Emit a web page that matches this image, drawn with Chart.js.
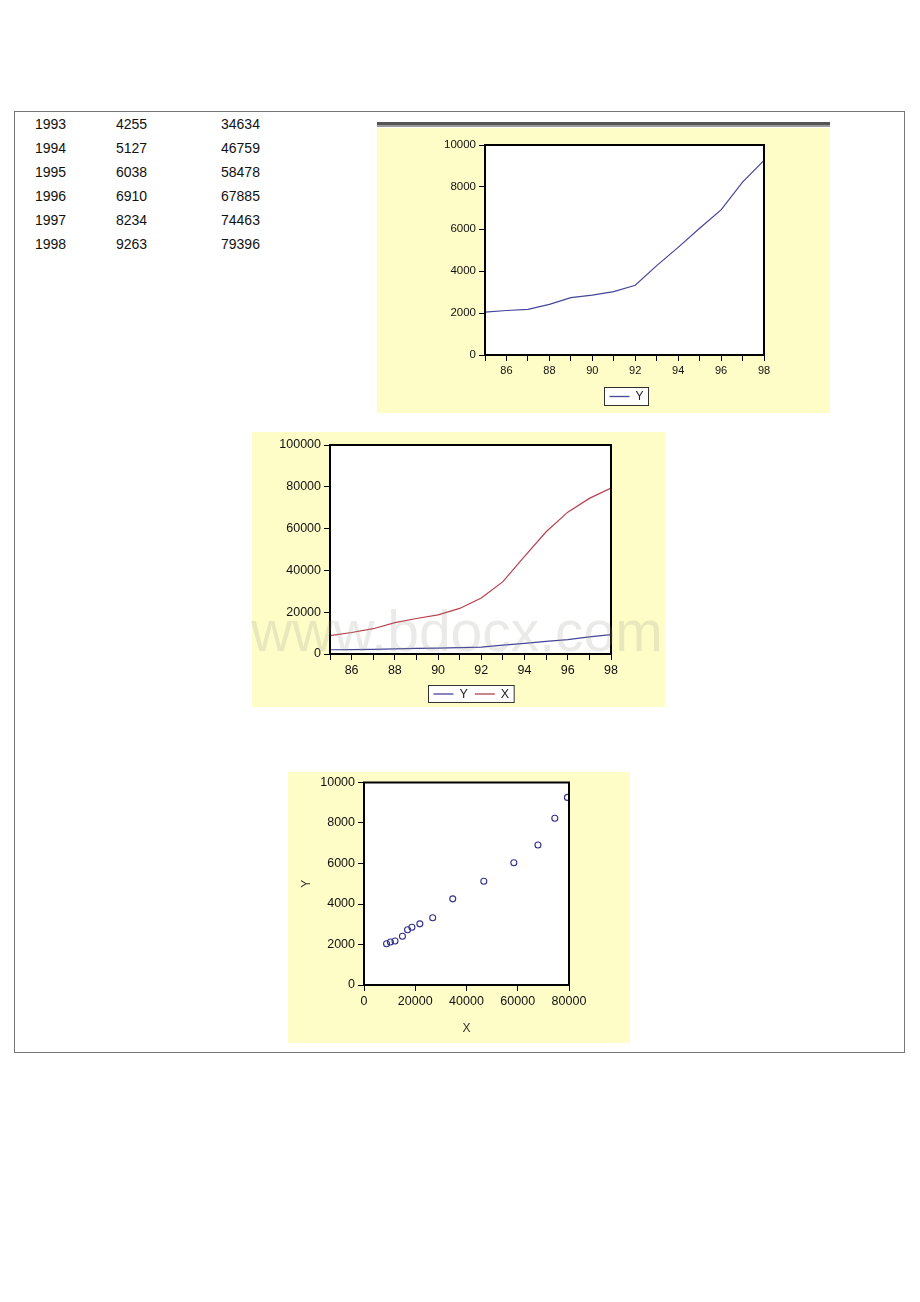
<!DOCTYPE html>
<html>
<head>
<meta charset="utf-8">
<script src="https://cdn.jsdelivr.net/npm/chart.js"></script>
<style>
  html, body { margin: 0; padding: 0; background: #fff; }
  #page { position: relative; width: 920px; height: 1302px; overflow: hidden; font-family: 'Liberation Sans', Arial, sans-serif; }
  #frame { position: absolute; left: 14px; top: 111px; width: 889px; height: 940px; border: 1px solid #777; }
  .cell { position: absolute; font-size: 14px; color: #111; line-height: 16px; }
  canvas { position: absolute; background: #FEFDC8; }
  #band { position: absolute; left: 377px; top: 122px; width: 453px; height: 3px; background: #555; border-bottom: 2px solid #9a9a9a; }
  #wm { position: absolute; left: 251px; top: 603px; font-size: 57px; line-height: 57px; color: rgba(150,150,140,0.2); white-space: nowrap; pointer-events: none; }
</style>
</head>
<body>
<div id="page">
  <div id="frame"></div>
  <div id="table"></div>
  <div id="band"></div>
  <canvas id="c1" width="453" height="285" style="left:377px;top:128px;width:453px;height:285px"></canvas>
  <canvas id="c2" width="413" height="275" style="left:252px;top:432px;width:413px;height:275px"></canvas>
  <canvas id="c3" width="342" height="271" style="left:288px;top:772px;width:342px;height:271px"></canvas>
  <div id="wm">www.bdocx.com</div>
</div>
<script>
// ---- data ----
const years   = [1985, 1986, 1987, 1988, 1989, 1990, 1991, 1992, 1993, 1994, 1995, 1996, 1997, 1998];
const seriesY = [2040, 2120, 2170, 2410, 2730, 2850, 3020, 3320, 4255, 5127, 6038, 6910, 8234, 9263];
const seriesX = [8800, 10300, 12100, 15000, 17000, 18700, 21800, 26800, 34634, 46759, 58478, 67885, 74463, 79396];
const tableYears = [1993, 1994, 1995, 1996, 1997, 1998];
const tableY     = [4255, 5127, 6038, 6910, 8234, 9263];
const tableX     = [34634, 46759, 58478, 67885, 74463, 79396];
const yTicks1 = [0, 2000, 4000, 6000, 8000, 10000];
const yTicks2 = [0, 20000, 40000, 60000, 80000, 100000];
const xTicks3 = [0, 20000, 40000, 60000, 80000];

const FONT = "'Liberation Sans', Arial, sans-serif";
const COL_Y = '#45459a';
const COL_X = '#b8404c';

// ---- table ----
(function () {
  const t = document.getElementById('table');
  const rowTop = [116, 140, 164, 188, 212, 236];
  const cols = [35, 116, 221];
  tableYears.forEach((yr, i) => {
    [yr, tableY[i], tableX[i]].forEach((v, j) => {
      const d = document.createElement('div');
      d.className = 'cell';
      d.style.left = cols[j] + 'px';
      d.style.top = rowTop[i] + 'px';
      d.textContent = String(v);
      t.appendChild(d);
    });
  });
})();

// ---- plugins ----
const plotFrame = {
  id: 'plotFrame',
  beforeDraw(chart) {
    const { ctx, chartArea: a } = chart;
    ctx.save();
    ctx.fillStyle = '#ffffff';
    ctx.fillRect(a.left, a.top, a.right - a.left, a.bottom - a.top);
    ctx.restore();
  },
  afterDraw(chart) {
    const { ctx, chartArea: a } = chart;
    ctx.save();
    ctx.strokeStyle = '#000';
    ctx.lineWidth = 2;
    ctx.strokeRect(a.left, a.top, a.right - a.left, a.bottom - a.top);
    ctx.restore();
  }
};

const boxLegend = {
  id: 'boxLegend',
  afterDraw(chart, args, o) {
    if (!o || !o.show) return;
    const { ctx, chartArea: a } = chart;
    ctx.save();
    ctx.font = o.size + 'px ' + FONT;
    const items = chart.data.datasets.map(d => ({ label: d.label, color: d.borderColor, w: ctx.measureText(d.label).width }));
    const lineLen = 20, gap = 6, itemGap = 7, padL = 5, padR = 5;
    let total = padL + padR;
    items.forEach((it, i) => { total += lineLen + gap + it.w + (i ? itemGap : 0); });
    const cx = (a.left + a.right) / 2 + (o.dx || 0);
    const x0 = Math.round(cx - total / 2) + 0.5;
    const y0 = o.y + 0.5;
    ctx.fillStyle = '#fff';
    ctx.fillRect(x0, y0, total, o.h);
    ctx.strokeStyle = '#333';
    ctx.lineWidth = 1;
    ctx.strokeRect(x0, y0, total, o.h);
    let x = x0 + padL;
    const ym = y0 + o.h / 2;
    items.forEach((it, i) => {
      if (i) x += itemGap;
      ctx.strokeStyle = it.color;
      ctx.lineWidth = 1.3;
      ctx.beginPath();
      ctx.moveTo(x, ym);
      ctx.lineTo(x + lineLen, ym);
      ctx.stroke();
      x += lineLen + gap;
      ctx.fillStyle = '#222';
      ctx.textBaseline = 'middle';
      ctx.fillText(it.label, x, ym + 0.5);
      x += it.w;
    });
    ctx.restore();
  }
};

const plain = v => String(v);

function yAxis(width, max, step, size) {
  return {
    type: 'linear', position: 'left', min: 0, max: max,
    afterFit(s) { s.width = width; },
    grid: { drawOnChartArea: false, drawTicks: true, tickLength: 6, color: '#000', lineWidth: 1 },
    border: { display: false },
    ticks: { stepSize: step, color: '#111', padding: 3, font: { family: FONT, size: size }, callback: plain }
  };
}
function yearAxis(height, size) {
  return {
    type: 'linear', position: 'bottom', min: years[0], max: years[years.length - 1],
    afterFit(s) { s.height = height; },
    grid: { drawOnChartArea: false, drawTicks: true, tickLength: 6, color: '#000', lineWidth: 1 },
    border: { display: false },
    ticks: {
      stepSize: 1, color: '#111', padding: 3, maxRotation: 0, autoSkip: false,
      font: { family: FONT, size: size },
      callback: v => (v % 2 === 0 ? String(v).slice(2) : '')
    }
  };
}
function lineDs(label, vals, color) {
  return {
    label: label,
    data: years.map((yr, i) => ({ x: yr, y: vals[i] })),
    borderColor: color, borderWidth: 1.2, pointRadius: 0, tension: 0, fill: false
  };
}
const common = {
  responsive: false, animation: false, devicePixelRatio: 1
};

// ---- chart 1 ----
new Chart(document.getElementById('c1'), {
  type: 'line',
  data: { datasets: [lineDs('Y', seriesY, COL_Y)] },
  options: Object.assign({}, common, {
    layout: { padding: { top: 17, right: 66, left: 0, bottom: 0 } },
    scales: { x: yearAxis(58, 11), y: yAxis(108, yTicks1[yTicks1.length - 1], yTicks1[1], 11.5) },
    plugins: { legend: { display: false }, tooltip: { enabled: false }, boxLegend: { show: true, y: 259, h: 18, size: 12, dx: 2 } }
  }),
  plugins: [plotFrame, boxLegend]
});

// ---- chart 2 ----
new Chart(document.getElementById('c2'), {
  type: 'line',
  data: { datasets: [lineDs('Y', seriesY, COL_Y), lineDs('X', seriesX, COL_X)] },
  options: Object.assign({}, common, {
    layout: { padding: { top: 13, right: 54, left: 0, bottom: 0 } },
    scales: { x: yearAxis(53, 12.5), y: yAxis(78, yTicks2[yTicks2.length - 1], yTicks2[1], 12.5) },
    plugins: { legend: { display: false }, tooltip: { enabled: false }, boxLegend: { show: true, y: 253, h: 17, size: 12.5 } }
  }),
  plugins: [plotFrame, boxLegend]
});

// ---- chart 3 ----
const y3 = yAxis(76, yTicks1[yTicks1.length - 1], yTicks1[1], 12.5);
y3.title = { display: true, text: 'Y', color: '#333', font: { family: FONT, size: 12 }, padding: { top: 11, bottom: 0 } };
new Chart(document.getElementById('c3'), {
  type: 'scatter',
  data: {
    datasets: [{
      label: 'Y',
      data: seriesX.map((xv, i) => ({ x: xv, y: seriesY[i] })),
      borderColor: '#30308a', backgroundColor: 'rgba(0,0,0,0)', borderWidth: 1.1,
      pointStyle: 'circle', pointRadius: 3, showLine: false
    }]
  },
  options: Object.assign({}, common, {
    layout: { padding: { top: 9, right: 61, left: 0, bottom: 0 } },
    scales: {
      x: {
        type: 'linear', position: 'bottom', min: xTicks3[0], max: xTicks3[xTicks3.length - 1],
        afterFit(s) { s.height = 58; },
        grid: { drawOnChartArea: false, drawTicks: true, tickLength: 6, color: '#000', lineWidth: 1 },
        border: { display: false },
        ticks: { stepSize: xTicks3[1], color: '#111', padding: 3, maxRotation: 0, font: { family: FONT, size: 12.5 }, callback: plain },
        title: { display: true, text: 'X', color: '#333', font: { family: FONT, size: 12 }, padding: { top: 0, bottom: 7 } }
      },
      y: y3
    },
    plugins: { legend: { display: false }, tooltip: { enabled: false } }
  }),
  plugins: [plotFrame]
});
</script>
</body>
</html>
